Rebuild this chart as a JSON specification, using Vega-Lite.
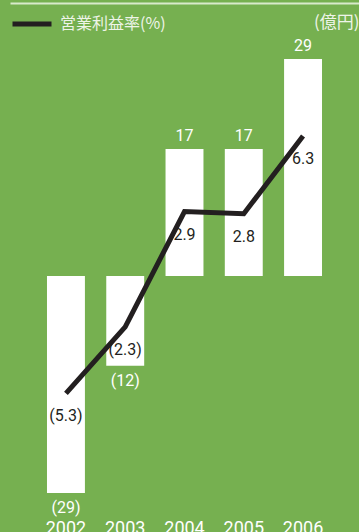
{
  "$schema": "https://vega.github.io/schema/vega-lite/v6.json",
  "width": 349,
  "height": 508,
  "autosize": {"type": "none"},
  "padding": {"left": 10, "top": 3, "right": 0, "bottom": 21},
  "background": "#76B050",
  "config": {"view": {"stroke": null}, "font": "Roboto"},
  "data": {
    "values": [
      {"year": "2002", "income": -29, "incomeLabel": "(29)", "margin": -5.3, "marginLabel": "(5.3)"},
      {"year": "2003", "income": -12, "incomeLabel": "(12)", "margin": -2.3, "marginLabel": "(2.3)"},
      {"year": "2004", "income": 17, "incomeLabel": "17", "margin": 2.9, "marginLabel": "2.9"},
      {"year": "2005", "income": 17, "incomeLabel": "17", "margin": 2.8, "marginLabel": "2.8"},
      {"year": "2006", "income": 29, "incomeLabel": "29", "margin": 6.3, "marginLabel": "6.3"}
    ]
  },
  "layer": [
    {
      "encoding": {
        "x": {"field": "year", "type": "ordinal", "scale": {"paddingInner": 0.36, "paddingOuter": 0.624},
          "axis": {"orient": "bottom", "title": null, "domain": false, "ticks": false, "labelAngle": 0, "labelFontSize": 18, "labelColor": "#ffffff", "labelPadding": 8}},
        "y": {"field": "income", "type": "quantitative", "scale": {"domain": [-31.4, 36.5], "nice": false, "zero": false},
          "axis": {"orient": "right", "title": "(億円)", "labels": false, "ticks": false, "domain": false, "grid": false, "titleAngle": 0, "titleAlign": "right", "titleBaseline": "middle", "titleX": 0, "titleY": 19, "titleFont": "Noto Sans CJK JP", "titleFontSize": 17, "titleFontWeight": "normal", "titleColor": "#eef4e8"}}
      },
      "layer": [
        {"mark": {"type": "bar", "color": "#ffffff"}},
        {"transform": [{"filter": "datum.income > 0"}],
          "mark": {"type": "text", "baseline": "alphabetic", "dy": -8, "fontSize": 16, "color": "#ffffff"},
          "encoding": {"text": {"field": "incomeLabel"}}},
        {"transform": [{"filter": "datum.income < 0"}],
          "mark": {"type": "text", "baseline": "top", "dy": 7, "fontSize": 16, "color": "#ffffff"},
          "encoding": {"text": {"field": "incomeLabel"}}}
      ]
    },
    {
      "encoding": {
        "x": {"field": "year", "type": "ordinal", "scale": {"paddingInner": 0.36, "paddingOuter": 0.624},
          "axis": {"orient": "top", "title": null, "labels": false, "ticks": false, "domain": true, "domainColor": "#d8eacb", "domainWidth": 2}},
        "y": {"field": "margin", "type": "quantitative", "scale": {"domain": [-10.6, 12.3], "nice": false, "zero": false}, "axis": null}
      },
      "layer": [
        {"mark": {"type": "line", "strokeWidth": 5, "strokeJoin": "miter", "strokeCap": "butt"},
          "encoding": {"color": {"datum": "営業利益率(%)", "type": "nominal", "scale": {"range": ["#231f20"]},
            "legend": {"orient": "none", "legendX": 0, "legendY": -1, "title": null, "symbolType": "stroke", "symbolSize": 1521, "symbolStrokeWidth": 5, "labelFont": "Noto Sans CJK JP", "labelFontSize": 16, "labelColor": "#eef4e8", "labelOffset": 6}}}},
        {"mark": {"type": "text", "baseline": "middle", "dy": 23, "fontSize": 16, "color": "#231f20"},
          "encoding": {"text": {"field": "marginLabel"}}}
      ]
    }
  ],
  "resolve": {"scale": {"y": "independent"}, "axis": {"x": "independent"}}
}
